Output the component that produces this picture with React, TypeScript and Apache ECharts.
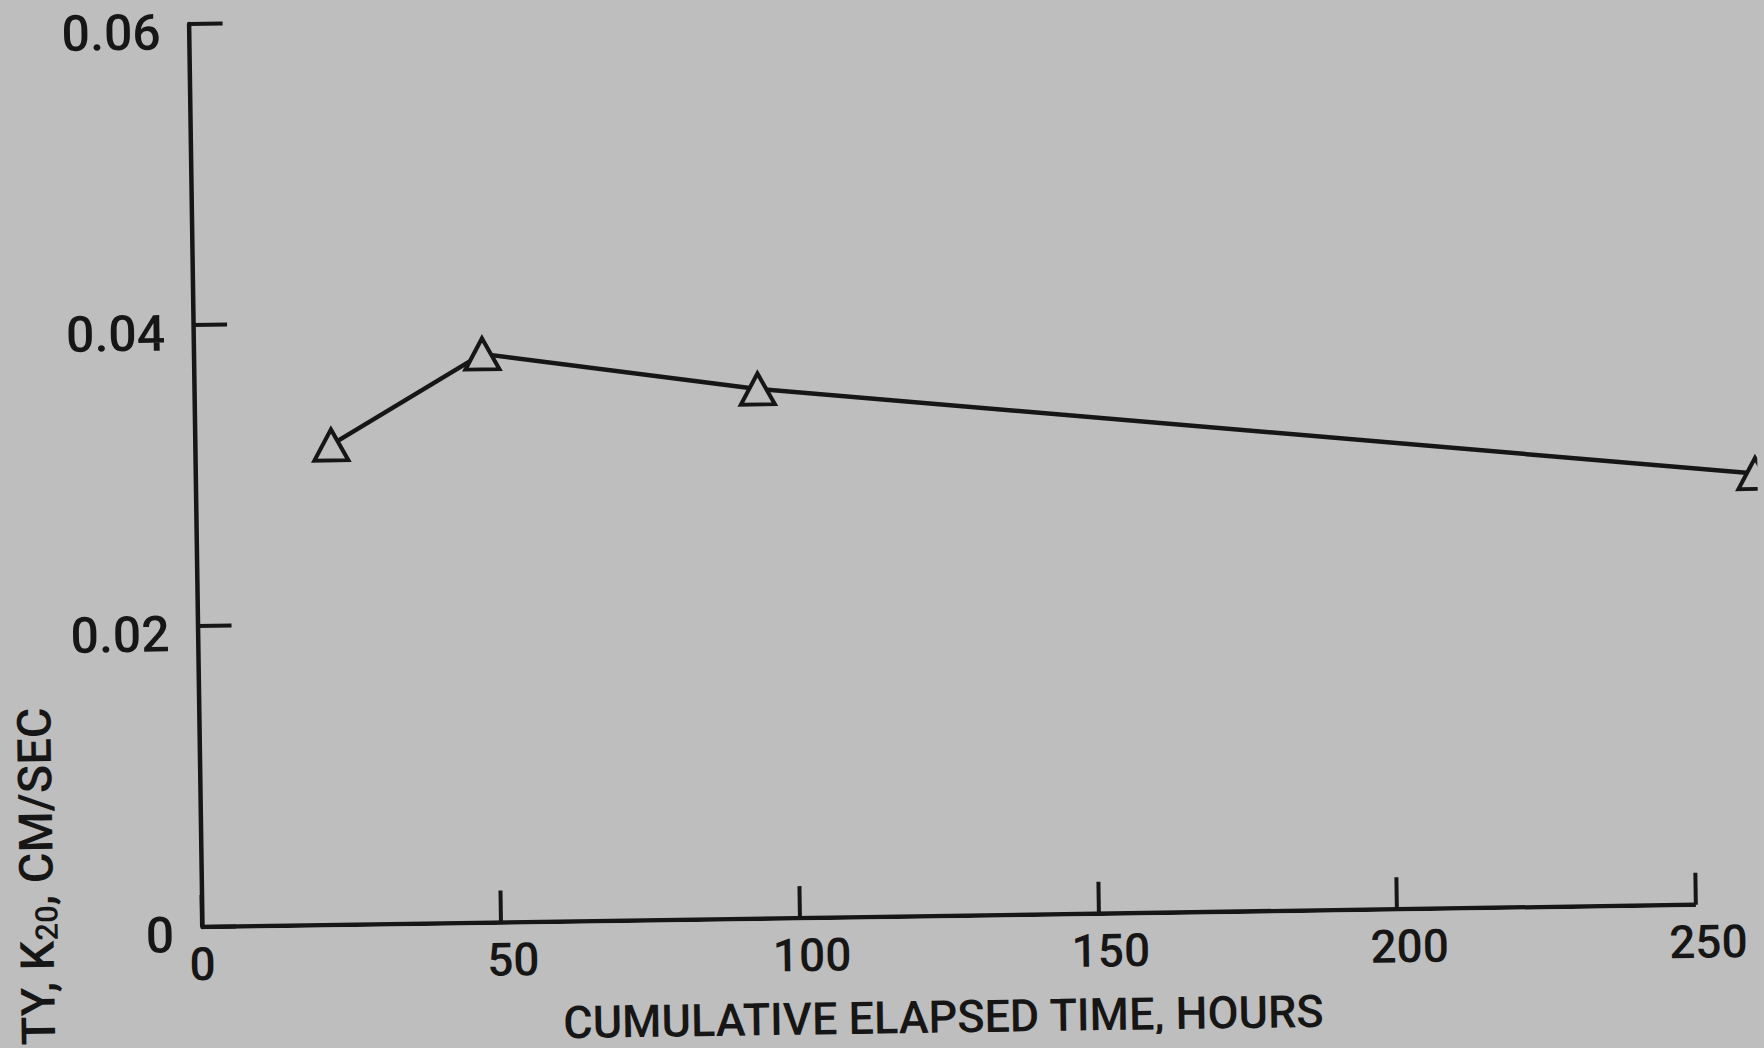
import React, { useEffect, useRef } from "react";
import * as echarts from "echarts";

// Data
const hours = [22.8, 48.3, 94.3, 261];
const k20 = [0.0319, 0.0378, 0.0352, 0.0286];
const xTickValues = [0, 50, 100, 150, 200, 250];
const xAxisEnd = 250;
const xTitle = "CUMULATIVE ELAPSED TIME, HOURS";
const yTitleHead = "TY, K";
const yTitleSub = "20";
const yTitleTail = ", CM/SEC";

const BG = "#bebebe";
const INK = "#161616";
const FONT = "Roboto, 'Liberation Sans', Arial, sans-serif";

export default function App() {
  const ref = useRef<HTMLDivElement>(null);

  useEffect(() => {
    if (!ref.current) return;
    const chart = echarts.init(ref.current, null, { renderer: "svg" });
    const xMax = 262;
    const gridW = (1494 * xMax) / 250;
    chart.setOption({
      animation: false,
      backgroundColor: "transparent",
      grid: {
        left: 202,
        top: 24,
        width: gridW,
        height: 903,
        containLabel: false,
        outerBoundsMode: "none",
      },
      xAxis: {
        type: "value",
        min: 0,
        max: xMax,
        interval: 50,
        axisLine: { show: false },
        axisTick: {
          show: true,
          inside: true,
          length: 32,
          customValues: xTickValues,
          lineStyle: { color: INK, width: 4 },
        },
        axisLabel: {
          show: true,
          margin: 18,
          customValues: xTickValues,
          formatter: (v: number) => (v === 0 ? `{z|0}` : `{n|${v}}`),
          rich: {
            z: { fontSize: 46, lineHeight: 38, color: INK, fontFamily: FONT, fontWeight: 500 },
            n: {
              fontSize: 46,
              lineHeight: 38,
              color: INK,
              fontFamily: FONT,
              fontWeight: 500,
              padding: [0, 0, 0, 24],
            },
          },
        },
        splitLine: { show: false },
        name: xTitle,
        nameLocation: "middle",
        nameGap: 82,
        nameTextStyle: {
          fontSize: 45,
          lineHeight: 38,
          color: INK,
          fontFamily: FONT,
          fontWeight: 500,
          padding: [0, 14 + gridW - 1494, 0, 0],
        },
      },
      yAxis: {
        type: "value",
        min: 0,
        max: 0.06,
        interval: 0.02,
        axisLine: { show: true, onZero: false, lineStyle: { color: INK, width: 4.5 } },
        axisTick: { show: true, inside: true, length: 34, lineStyle: { color: INK, width: 4 } },
        axisLabel: {
          show: true,
          margin: 28,
          showMaxLabel: true,
          showMinLabel: true,
          formatter: (v: number) => `{v|${v === 0 ? "0" : v.toFixed(2)}}`,
          rich: {
            v: {
              fontSize: 50,
              lineHeight: 40,
              color: INK,
              fontFamily: FONT,
              fontWeight: 500,
              padding: [16, 0, 0, 0],
            },
          },
        },
        splitLine: { show: false },
      },
      series: [
        {
          type: "line",
          silent: true,
          data: [
            [0, 0],
            [xAxisEnd, 0],
          ],
          symbol: "none",
          lineStyle: { color: INK, width: 4.5 },
          z: 1,
        },
        {
          type: "line",
          data: hours.map((h, i) => [h, k20[i]]),
          clip: false,
          symbol: "triangle",
          symbolSize: [34, 31],
          lineStyle: { color: INK, width: 4.5 },
          itemStyle: { color: BG, borderColor: INK, borderWidth: 4 },
          z: 3,
        },
      ],
      graphic: [
        {
          type: "text",
          x: 37,
          y: 705,
          rotation: Math.PI / 2,
          style: {
            text: `{a|${yTitleHead}}{s|${yTitleSub}}{a|${yTitleTail}}`,
            align: "right",
            verticalAlign: "middle",
            fill: INK,
            rich: {
              a: { fontSize: 47, fontFamily: FONT, fontWeight: 500, fill: INK, lineHeight: 54 },
              s: { fontSize: 31, fontFamily: FONT, fontWeight: 500, fill: INK, lineHeight: 54, padding: [20, 0, 0, 0] },
            },
          },
        },
      ],
    });
    return () => chart.dispose();
  }, []);

  return (
    <div
      style={{
        position: "fixed",
        left: 0,
        top: 0,
        width: 1764,
        height: 1048,
        background: BG,
        overflow: "hidden",
      }}
    >
      <div
        ref={ref}
        style={{
          position: "absolute",
          left: 0,
          top: 0,
          width: 1764,
          height: 1048,
          transform: "rotate(-0.85deg)",
          transformOrigin: "202px 927px",
        }}
      />
    </div>
  );
}
